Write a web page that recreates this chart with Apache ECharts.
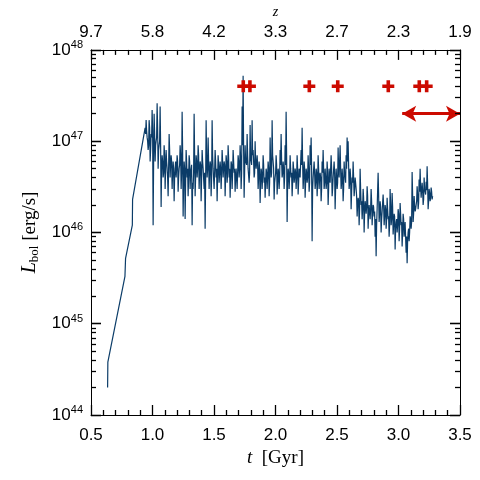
<!DOCTYPE html>
<html>
<head>
<meta charset="utf-8">
<script src="https://cdn.jsdelivr.net/npm/echarts@6/dist/echarts.min.js"></script>
<style>html,body{margin:0;padding:0;background:#fff}#c{width:480px;height:480px}</style>
</head>
<body>
<div id="c"></div>
<script>
// ---- data (L in units of 1e46 erg/s) ----
const L_UNIT = 1e46;
const earlyT = [0.635, 0.637, 0.776, 0.781, 0.836, 0.838];
const earlyL = [0.020, 0.038, 0.33, 0.52, 1.2, 2.3];
const denseStart = 0.94;
const denseStep = 0.00813;
// samples on the grid points
const denseA = [
 14, 17, 11, 8, 17, 6, 12, 22, 1.2, 20, 6, 10, 26, 5, 9, 24,
 1.9, 7, 4, 9, 3, 8, 5, 2.5, 12, 4, 7, 3, 6, 2.2, 5,
 4, 7, 2.8, 5, 9, 3, 21, 1.5, 6, 1.4, 8, 4, 2.5, 7, 3,
 5, 1.2, 3, 20, 2.5, 7, 4, 9, 3, 6, 2.2, 8, 5, 3, 1.1,
 17, 4, 11, 3, 6, 2.5, 17, 5, 3, 8, 4, 2.2, 7, 3.5, 6,
 3, 8, 4, 6, 2.5, 7, 3.5, 9, 4, 2.4, 6, 3, 8, 4.5, 2.8,
 5, 3, 7, 4, 9, 3, 24, 52, 2.4, 9, 6, 12, 5, 3.5, 15,
 6, 17, 8, 4, 10, 5, 7, 3, 6, 2.1, 5, 3, 7, 3.5, 2.4,
 5, 3, 6, 2.5, 11, 4, 17, 6, 2.3, 4, 7, 2.6, 5, 3, 8,
 12, 4, 6, 3, 9, 21, 1.3, 5, 3, 7, 4, 2.5, 6, 3.5, 5,
 3, 7, 2.6, 5, 4, 8, 14, 3, 6, 2.4, 5, 3.5, 7, 2.8, 9,
 11, 0.8, 4, 6, 3, 5, 2.5, 7, 3, 4.5, 2.2, 6, 8, 3, 5,
 3, 6, 2, 5, 3.5, 7, 2.5, 4, 6, 1.8, 5, 3, 8.5, 4, 9,
 3, 5, 2.2, 6, 4, 7, 11, 10, 3, 5, 1.8, 4, 6, 2.5, 4,
 3, 1.5, 2.4, 1.2, 5, 2, 1.4, 3, 1, 2.2, 1.6, 3.2, 1.1, 2, 1.4,
 3, 1.2, 2, 1.5, 0.9, 0.55, 1.8, 4.5, 1.3, 2.2, 1, 1.7, 2.6, 1.2, 2,
 1.1, 2.4, 1.4, 0.9, 3, 1.2, 2.7, 0.95, 1.6, 0.65, 1.3, 1, 1.8, 0.8, 2.1,
 1.2, 0.7, 1.6, 0.9, 1.3, 0.6, 0.46, 1, 0.8, 1.5, 1.1, 4.6, 1.3, 2.5, 1.7,
 2, 3.2, 1.8, 3.8, 5, 2.4, 3.5, 2, 4, 2.8, 3.6, 5.3, 1.8, 3, 2.2, 3.1, 2.3
];
// samples half-way between grid points
const denseB = [
 12, 13, 10, 9, 14, 8, 11, 13, 6, 12, 9, 11, 14, 8, 10, 9,
 5, 6, 4.5, 7, 5, 6, 4, 5, 8, 5.5, 6, 4.5, 5, 4, 6,
 5, 6, 4, 5.5, 7, 4.5, 8, 3.5, 5, 3.5, 6, 5, 4, 6, 4.5,
 5.5, 3.5, 4.5, 7, 4, 6, 5, 7, 4.5, 5.5, 4, 6, 5, 4.5, 3.5,
 7, 5, 6, 4.5, 5.5, 4, 7, 5, 4.5, 6, 5, 4, 5.5, 4.5, 5,
 4.5, 6, 5, 5.5, 4, 6, 4.5, 6.5, 5, 4, 5.5, 4.5, 6, 5, 4,
 5, 4.5, 6, 5, 6.5, 4.5, 9, 8, 4.5, 6, 5.5, 7, 5, 4.5, 6.5,
 5.5, 7, 6, 4.5, 6, 5, 5.5, 4, 5, 3.5, 4.5, 4, 5.5, 4, 3.5,
 4.5, 4, 5, 3.5, 6, 4.5, 7, 5, 3.5, 4.5, 5.5, 3.5, 4.5, 4, 5.5,
 6, 4.5, 5, 4, 5.5, 7, 3.5, 4.5, 4, 5, 4.5, 3.5, 5, 4, 4.5,
 4, 5, 3.5, 4.5, 4, 5.5, 6, 4, 5, 3.5, 4.5, 4, 5, 3.5, 5.5,
 5, 3, 4, 4.5, 3.5, 4.5, 3.5, 5, 4, 4, 3, 4.5, 5, 3.5, 4,
 3.5, 4.5, 3, 4, 3.5, 5, 3, 4, 4.5, 3, 4, 3.5, 5, 4, 5,
 3.5, 4, 3, 4.5, 3.5, 5, 6, 5.5, 3.5, 4, 2.8, 3.5, 4, 3, 3.5,
 2.5, 2, 2.2, 1.8, 3, 2.2, 1.8, 2.4, 1.6, 2, 1.9, 2.5, 1.6, 2, 1.8,
 2.2, 1.6, 1.9, 1.7, 1.4, 1.2, 1.8, 2.6, 1.6, 1.9, 1.4, 1.7, 2, 1.5, 1.8,
 1.4, 1.8, 1.5, 1.2, 2, 1.4, 1.9, 1.2, 1.5, 1.1, 1.4, 1.2, 1.6, 1.1, 1.6,
 1.3, 1, 1.4, 1.1, 1.3, 0.9, 0.8, 1.1, 1, 1.4, 1.3, 2.6, 1.6, 2, 1.8,
 2.2, 2.6, 2.1, 2.8, 3.2, 2.5, 2.9, 2.3, 3, 2.6, 2.9, 3.4, 2.2, 2.7, 2.4, 2.8, 2.5
];
const markerT = [1.738, 1.792, 2.275, 2.506, 2.917, 3.169, 3.229];
const markerL = 4e47;
const arrowT = [3.03, 3.5];
const arrowL = 2e47;
const xTicks = ['0.5', '1.0', '1.5', '2.0', '2.5', '3.0', '3.5'];
const zTicks = ['9.7', '5.8', '4.2', '3.3', '2.7', '2.3', '1.9'];
const decades = [44, 45, 46, 47, 48];
const minorMult = [2, 3, 4, 5, 6, 7, 8, 9];

// ---- build series data ----
const lineData = earlyT.map((t, i) => [t, earlyL[i] * L_UNIT]);
denseA.forEach((v, i) => {
  const t = denseStart + i * denseStep;
  lineData.push([+t.toFixed(5), v * L_UNIT]);
  lineData.push([+(t + denseStep / 2).toFixed(5), denseB[i] * L_UNIT]);
});
const markerData = markerT.map(t => [t, markerL]);

// y-axis tick marks (log decades + minor 2..9), drawn inside both frame sides
const X_MIN = 0.5, X_MAX = 3.5, PX_PER_GYR = (480 - 91 - 20) / (X_MAX - X_MIN);
const yTickLines = [];
decades.forEach(e => {
  const major = Math.pow(10, e);
  const lenMaj = 10 / PX_PER_GYR;
  yTickLines.push([{coord: [X_MIN, major]}, {coord: [X_MIN + lenMaj, major]}]);
  yTickLines.push([{coord: [X_MAX, major]}, {coord: [X_MAX - lenMaj, major]}]);
  if (e < 48) minorMult.forEach(m => {
    const v = m * major;
    const len = 5 / PX_PER_GYR;
    yTickLines.push([{coord: [X_MIN, v]}, {coord: [X_MIN + len, v]}]);
    yTickLines.push([{coord: [X_MAX, v]}, {coord: [X_MAX - len, v]}]);
  });
});

const tickFont = 'Liberation Sans';
const serif = 'Liberation Serif';
const chart = echarts.init(document.getElementById('c'), null, {renderer: 'canvas'});

const xCommon = {
  type: 'value', min: X_MIN, max: X_MAX, interval: 0.5,
  axisLine: {show: true, lineStyle: {color: '#000', width: 1}},
  axisTick: {show: true, inside: true, length: 10, lineStyle: {color: '#000', width: 1.3}},
  minorTick: {show: true, splitNumber: 5, length: 5, lineStyle: {color: '#000', width: 1.3}},
  splitLine: {show: false}
};
const yCommon = {
  type: 'log', logBase: 10, min: 1e44, max: 1e48,
  axisLine: {show: true, lineStyle: {color: '#000', width: 1}},
  axisTick: {show: true, inside: true, length: 10, lineStyle: {color: '#000', width: 1.3}},
  splitLine: {show: false}
};

chart.setOption({
  animation: false,
  backgroundColor: '#fff',
  grid: {left: 91, right: 20, top: 47, bottom: 65},
  xAxis: [
    Object.assign({}, xCommon, {
      position: 'bottom',
      name: '{i|t}  [Gyr]', nameLocation: 'middle', nameGap: 30,
      nameTextStyle: {fontFamily: serif, fontSize: 19, color: '#000',
        rich: {i: {fontFamily: serif, fontStyle: 'italic', fontSize: 19, color: '#000'}}},
      axisLabel: {margin: 12, color: '#000', fontFamily: tickFont, fontSize: 17,
        formatter: v => xTicks[Math.round((v - 0.5) / 0.5)]}
    }),
    Object.assign({}, xCommon, {
      position: 'top',
      name: 'z', nameLocation: 'middle', nameGap: 12,
      nameTextStyle: {fontFamily: serif, fontStyle: 'italic', fontSize: 14, color: '#000'},
      axisLabel: {margin: 9, color: '#000', fontFamily: tickFont, fontSize: 17,
        formatter: v => zTicks[Math.round((v - 0.5) / 0.5)]}
    })
  ],
  yAxis: [
    Object.assign({}, yCommon, {
      position: 'left',
      name: '{i|L}{s|bol} [erg/s]', nameLocation: 'middle', nameGap: 50, nameRotate: 90,
      nameTextStyle: {fontFamily: serif, fontSize: 19, color: '#000',
        rich: {i: {fontFamily: serif, fontStyle: 'italic', fontSize: 20, color: '#000'},
               s: {fontFamily: serif, fontSize: 13, color: '#000', padding: [9, 0, 0, 0]}}},
      axisLabel: {margin: 8, color: '#000',
        formatter: v => '{b|10}{s|' + Math.round(Math.log10(v)) + '}',
        rich: {b: {fontFamily: tickFont, fontSize: 17, color: '#000'},
               s: {fontFamily: tickFont, fontSize: 11, color: '#000', padding: [0, 0, 10, 0]}}}
    }),
    Object.assign({}, yCommon, {position: 'right', axisLabel: {show: false}})
  ],
  series: [
    {
      type: 'line', xAxisIndex: 0, yAxisIndex: 0,
      data: lineData, showSymbol: false, symbol: 'none',
      lineStyle: {color: '#0b3c68', width: 1.2}, z: 2,
      markLine: {
        silent: true, symbol: ['arrow', 'arrow'], symbolSize: [12, 14],
        label: {show: false},
        lineStyle: {color: '#cc0a00', width: 3, type: 'solid', opacity: 1},
        data: [[{coord: [arrowT[0], arrowL]}, {coord: [arrowT[1], arrowL]}]]
      }
    },
    {
      type: 'scatter', xAxisIndex: 0, yAxisIndex: 0, data: markerData,
      symbol: 'path://M3.5,0H6.5V3.5H10V6.5H6.5V10H3.5V6.5H0V3.5H3.5Z',
      symbolSize: 12, itemStyle: {color: '#cc0a00', opacity: 1}, z: 3,
      markLine: {
        silent: true, symbol: ['none', 'none'], label: {show: false},
        lineStyle: {color: '#000', width: 1.3, type: 'solid', opacity: 1},
        emphasis: {disabled: true},
        data: yTickLines
      }
    }
  ]
});
</script>
</body>
</html>
